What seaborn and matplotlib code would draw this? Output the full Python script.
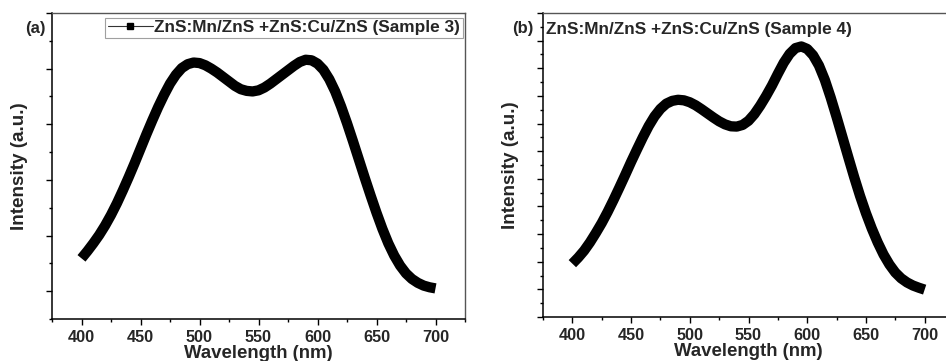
import matplotlib
matplotlib.use("Agg")
import matplotlib.pyplot as plt
from matplotlib.lines import Line2D
from matplotlib.ticker import MultipleLocator, NullFormatter
import seaborn as sns
import pandas as pd

sns.set_style("ticks")
plt.rcParams['font.family'] = ['Liberation Sans', 'DejaVu Sans']
plt.rcParams['font.weight'] = 'bold'

# Wavelength grid (nm), read every 5 nm
wl = [400, 405, 410, 415, 420, 425, 430, 435, 440, 445, 450, 455, 460, 465, 470, 475,
      480, 485, 490, 495, 500, 505, 510, 515, 520, 525, 530, 535, 540, 545, 550, 555,
      560, 565, 570, 575, 580, 585, 590, 595, 600, 605, 610, 615, 620, 625, 630, 635,
      640, 645, 650, 655, 660, 665, 670, 675, 680, 685, 690, 695, 700]

# Sample 3 (panel a), intensity in arbitrary units
int_a = [1.59, 1.72, 1.86, 2.01, 2.18, 2.37, 2.58, 2.81, 3.05, 3.30, 3.56, 3.82, 4.07, 4.31, 4.53, 4.73,
         4.89, 5.01, 5.08, 5.11, 5.10, 5.06, 5.00, 4.93, 4.85, 4.77, 4.69, 4.63, 4.60, 4.59, 4.61, 4.66,
         4.73, 4.81, 4.89, 4.97, 5.05, 5.12, 5.16, 5.15, 5.09, 4.98, 4.81, 4.59, 4.32, 4.02, 3.70, 3.37,
         3.04, 2.72, 2.41, 2.12, 1.86, 1.64, 1.46, 1.32, 1.22, 1.15, 1.10, 1.07, 1.05]

# Sample 4 (panel b), intensity in arbitrary units
int_b = [1.93, 2.15, 2.40, 2.70, 3.04, 3.40, 3.80, 4.23, 4.68, 5.14, 5.61, 6.06, 6.50, 6.91, 7.26, 7.53,
         7.72, 7.82, 7.86, 7.84, 7.77, 7.66, 7.52, 7.37, 7.22, 7.08, 6.97, 6.90, 6.89, 6.95, 7.10, 7.34,
         7.65, 8.00, 8.38, 8.80, 9.20, 9.52, 9.73, 9.79, 9.70, 9.47, 9.10, 8.58, 7.94, 7.24, 6.51, 5.78,
         5.06, 4.38, 3.76, 3.20, 2.70, 2.26, 1.90, 1.61, 1.40, 1.25, 1.14, 1.06, 0.99]

label_a = "ZnS:Mn/ZnS +ZnS:Cu/ZnS (Sample 3)"
label_b = "ZnS:Mn/ZnS +ZnS:Cu/ZnS (Sample 4)"
xticks = [400, 450, 500, 550, 600, 650, 700]

df_a = pd.DataFrame({"wl": wl, "I": int_a})
df_b = pd.DataFrame({"wl": wl, "I": int_b})

fig = plt.figure(figsize=(9.46, 3.61), dpi=100)
ax1 = fig.add_axes([52/946, 1-319/361, 413/946, 306/361])
ax2 = fig.add_axes([543/946, 1-317/361, 411/946, 304/361])

lw = 7.4
sns.lineplot(data=df_a, x="wl", y="I", ax=ax1, color="black", linewidth=lw,
             solid_capstyle="butt", solid_joinstyle="round", legend=False)
sns.lineplot(data=df_b, x="wl", y="I", ax=ax2, color="black", linewidth=lw,
             solid_capstyle="butt", solid_joinstyle="round", legend=False)

ax1.set_xlim(375, 725)
ax1.set_ylim(0.5, 6.0)
ax2.set_xlim(375, 725)
ax2.set_ylim(0, 11)

for ax in (ax1, ax2):
    ax.set_xticks(xticks)
    ax.set_xticklabels([str(t) for t in xticks], fontsize=11.7, fontweight='bold')
    ax.xaxis.set_minor_locator(MultipleLocator(25))
    ax.yaxis.set_major_locator(MultipleLocator(1.0))
    ax.yaxis.set_minor_locator(MultipleLocator(0.5))
    ax.yaxis.set_major_formatter(NullFormatter())
    ax.tick_params(axis='both', which='major', direction='out', length=4, width=1, color='black')
    ax.tick_params(axis='both', which='minor', direction='out', length=2.5, width=1, color='black')
    ax.tick_params(axis='x', pad=4)
    for s in ('left', 'bottom'):
        ax.spines[s].set_color('black')
        ax.spines[s].set_linewidth(1.1)
    for s in ('top', 'right'):
        ax.spines[s].set_color('#555555')
        ax.spines[s].set_linewidth(1.0)
    ax.set_xlabel("Wavelength (nm)", fontsize=13.4, fontweight='bold', labelpad=0)
    ax.set_ylabel("Intensity (a.u.)", fontsize=13.6, fontweight='bold', labelpad=9.5)

ax2.spines['right'].set_visible(False)

handle = Line2D([], [], color='#333333', linewidth=0.8, marker='s', markersize=5,
                markerfacecolor='black', markeredgecolor='black')
leg = ax1.legend([handle], [label_a], loc='upper right', bbox_to_anchor=(0.995, 0.985),
                 frameon=True, fancybox=False, handlelength=2.6, handletextpad=0.1,
                 borderpad=0.15, borderaxespad=0.0,
                 prop={'weight': 'bold', 'size': 12.4})
leg.get_frame().set_edgecolor('#888888')
leg.get_frame().set_linewidth(0.8)

ax2.text(0.008, 0.945, label_b, transform=ax2.transAxes, fontsize=12.4,
         fontweight='bold', ha='left', va='center')

fig.text(25/946, 1-28/361, "(a)", fontsize=12, fontweight='bold', ha='left', va='center')
fig.text(512/946, 1-29/361, "(b)", fontsize=12, fontweight='bold', ha='left', va='center')

fig.savefig("out.png", dpi=100)
